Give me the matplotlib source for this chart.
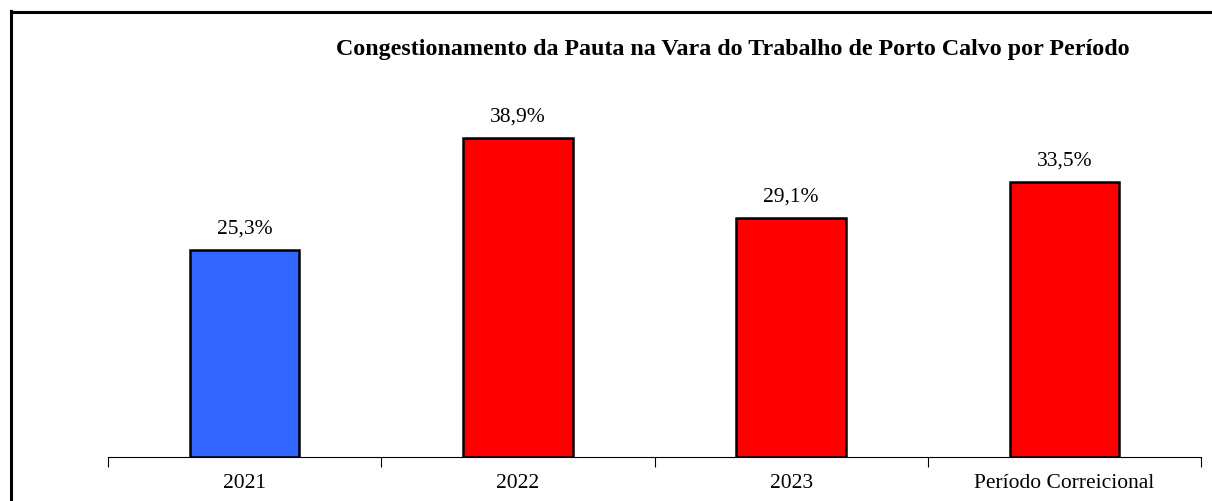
import matplotlib.pyplot as plt
from matplotlib.lines import Line2D

# Data
categories = ["2021", "2022", "2023", "Período Correicional"]
values = [25.3, 38.9, 29.1, 33.5]
colors = ["#3366FF", "#FF0000", "#FF0000", "#FF0000"]
title = "Congestionamento da Pauta na Vara do Trabalho de Porto Calvo por Período"

plt.rcParams['font.family'] = ['Liberation Serif', 'DejaVu Serif']

W, H = 1212, 501
fig = plt.figure(figsize=(W / 100, H / 100), dpi=100)

# axes placed in pixel terms: x-axis from 108 to 1201, baseline at y=457
ax = fig.add_axes([108 / W, 44 / H, (1201 - 108) / W, 410 / H])
x = range(len(categories))
ax.bar(x, values, width=0.4, color=colors, edgecolor="black", linewidth=1.8)
for xi, v in zip(x, values):
    ax.text(xi, v + 1.4, f"{v:.1f}%".replace(".", ","), ha="center", va="bottom", fontsize=15.5)

ax.set_xlim(-0.5, len(categories) - 0.5)
ax.set_ylim(0, 50)
ax.set_yticks([])
for s in ["left", "right", "top"]:
    ax.spines[s].set_visible(False)
ax.spines["bottom"].set_linewidth(0.8)
ax.set_xticks([i - 0.5 for i in range(len(categories) + 1)], minor=False)
ax.set_xticklabels([])
ax.tick_params(axis="x", length=7, width=0.8, direction="out")
ax.set_xticks(list(x), minor=True)
ax.set_xticklabels(categories, minor=True, fontsize=15.5)
ax.tick_params(axis="x", which="minor", length=0, pad=12)

fig.text(733 / W, 1 - 50 / H, title, ha="center", va="center", fontsize=17.3, fontweight="bold")

# outer frame (left and top edges)
fig.add_artist(Line2D([11 / W, 11 / W], [0, 1 - 11 / H], color="black", linewidth=2.2))
fig.add_artist(Line2D([11 / W, 1], [1 - 12 / H, 1 - 12 / H], color="black", linewidth=2.2))

fig.savefig("out.png", dpi=100)
